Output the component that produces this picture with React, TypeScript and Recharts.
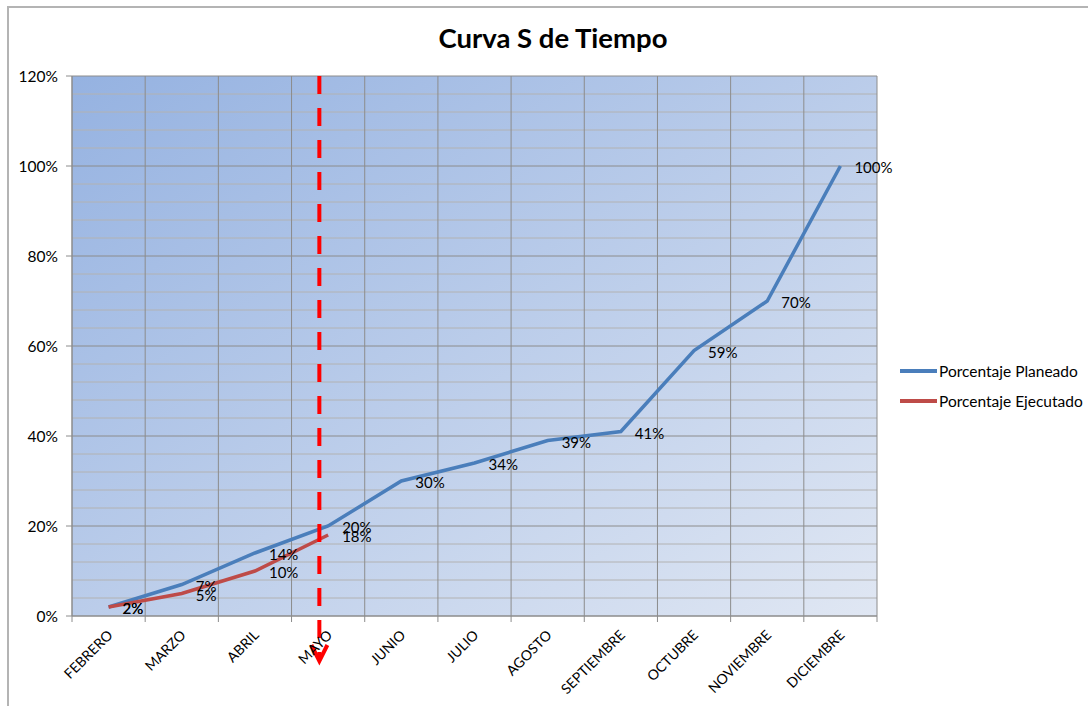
import {
  LineChart,
  Line,
  XAxis,
  YAxis,
  CartesianGrid,
  ReferenceLine,
  LabelList,
} from 'recharts';

const MESES = [
  'FEBRERO',
  'MARZO',
  'ABRIL',
  'MAYO',
  'JUNIO',
  'JULIO',
  'AGOSTO',
  'SEPTIEMBRE',
  'OCTUBRE',
  'NOVIEMBRE',
  'DICIEMBRE',
];
const PLANEADO = [2, 7, 14, 20, 30, 34, 39, 41, 59, 70, 100];
const EJECUTADO = [2, 5, 10, 18];
const Y_TICKS = [0, 20, 40, 60, 80, 100, 120];
const Y_MINOR = [4, 8, 12, 16, 24, 28, 32, 36, 44, 48, 52, 56, 64, 68, 72, 76, 84, 88, 92, 96, 104, 108, 112, 116];
// fecha de corte (dentro de MAYO)
const CORTE = 3.38;

const FONT = 'Lato, "Open Sans", sans-serif';
const W = 1088;
const H = 706;
const M = { top: 76, right: 211, left: 12, bottom: 10 };

const data = MESES.map((mes, i) => ({
  mes,
  x: i + 0.5,
  planeado: PLANEADO[i],
  ejecutado: i < EJECUTADO.length ? EJECUTADO[i] : null,
}));

const bordes = MESES.map((_, i) => i).concat(MESES.length);
const xTicks = bordes.concat(MESES.map((_, i) => i + 0.5)).sort((a, b) => a - b);

function MesTick(props: any) {
  const { x, y, payload } = props;
  const v = payload.value;
  if (Number.isInteger(v)) {
    return <line x1={x} x2={x} y1={y} y2={y + 6} stroke="#8c8c8c" strokeWidth={1} />;
  }
  const tx = x + 5;
  const ty = y + 20;
  return (
    <text
      x={tx}
      y={ty}
      textAnchor="end"
      fontSize={14}
      fontFamily={FONT}
      fill="#000"
      transform={`rotate(-45, ${tx}, ${ty})`}
    >
      {MESES[Math.floor(v)]}
    </text>
  );
}

function Etiqueta(props: any) {
  const { x, y, value } = props;
  if (value == null || x == null || y == null) return null;
  return (
    <text
      x={x + 14}
      y={y + 1}
      dominantBaseline="central"
      fontSize={15}
      fontFamily={FONT}
      fill="#000"
    >
      {value}%
    </text>
  );
}

function Corte(props: any) {
  const { x1, y1, y2 } = props;
  return (
    <g>
      <line x1={x1} x2={x1} y1={y1} y2={y2 - 3} stroke="#ff0000" strokeWidth={4} strokeDasharray="18 14" />
      <polyline
        points={`${x1 - 8},${y2 - 16} ${x1},${y2} ${x1 + 8},${y2 - 16}`}
        fill="none"
        stroke="#ff0000"
        strokeWidth={4}
      />
    </g>
  );
}

export default function App() {
  return (
    <div style={{ position: 'fixed', left: 0, top: 0, width: W, height: H, overflow: 'hidden', background: '#fff' }}>
      <div
        style={{
          position: 'absolute',
          left: 7,
          top: 6,
          width: W + 40,
          height: H + 40,
          border: '2px solid #b4b4b4',
        }}
      />
      <div
        style={{
          position: 'absolute',
          left: 0,
          width: 1106,
          top: 21,
          textAlign: 'center',
          fontFamily: FONT,
          fontWeight: 700,
          fontSize: 27.5,
          color: '#000',
        }}
      >
        Curva S de Tiempo
      </div>
      <div style={{ position: 'absolute', left: 0, top: 0 }}>
        <LineChart width={W} height={H} data={data} margin={M}>
          <defs>
            <linearGradient id="fondo" x1="0" y1="0" x2="1" y2="1">
              <stop offset="0%" stopColor="#95b2e1" />
              <stop offset="100%" stopColor="#e0e7f3" />
            </linearGradient>
          </defs>
          <CartesianGrid fill="url(#fondo)" vertical={false} stroke="#8c8c8c" strokeOpacity={1} />
          {Y_MINOR.map((v) => (
            <ReferenceLine key={`m${v}`} y={v} stroke="#b2b2b2" strokeWidth={1} />
          ))}
          {bordes.map((b) => (
            <ReferenceLine key={`v${b}`} x={b} stroke="#8c8c8c" strokeWidth={1} />
          ))}
          <XAxis
            dataKey="x"
            type="number"
            domain={[0, MESES.length]}
            ticks={xTicks}
            interval={0}
            tickLine={false}
            tickSize={0}
            tickMargin={0}
            height={80}
            axisLine={{ stroke: '#8c8c8c' }}
            tick={<MesTick />}
          />
          <YAxis
            domain={[0, 120]}
            ticks={Y_TICKS}
            width={60}
            tickFormatter={(v) => `${v}%`}
            tickSize={6}
            tickMargin={8}
            axisLine={{ stroke: '#8c8c8c' }}
            tickLine={{ stroke: '#8c8c8c' }}
            tick={{ fill: '#000', fontSize: 15.5, fontFamily: FONT }}
          />
          <Line
            dataKey="planeado"
            stroke="#4a7ebb"
            strokeWidth={3.5}
            dot={false}
            isAnimationActive={false}
          >
            <LabelList dataKey="planeado" content={<Etiqueta />} />
          </Line>
          <Line
            dataKey="ejecutado"
            stroke="#be4b48"
            strokeWidth={3.5}
            dot={false}
            isAnimationActive={false}
          >
            <LabelList dataKey="ejecutado" content={<Etiqueta />} />
          </Line>
          <ReferenceLine
            segment={[
              { x: CORTE, y: 120 },
              { x: CORTE, y: -10 },
            ]}
            ifOverflow="visible"
            shape={<Corte />}
          />
        </LineChart>
      </div>
      <div style={{ position: 'absolute', left: 900, top: 356, fontFamily: FONT, fontSize: 15.5, color: '#000' }}>
        {[
          { name: 'Porcentaje Planeado', color: '#4a7ebb' },
          { name: 'Porcentaje Ejecutado', color: '#be4b48' },
        ].map((s) => (
          <div key={s.name} style={{ display: 'flex', alignItems: 'center', height: 30 }}>
            <span style={{ display: 'inline-block', width: 37, height: 3.5, background: s.color, marginRight: 2 }} />
            <span>{s.name}</span>
          </div>
        ))}
      </div>
    </div>
  );
}
